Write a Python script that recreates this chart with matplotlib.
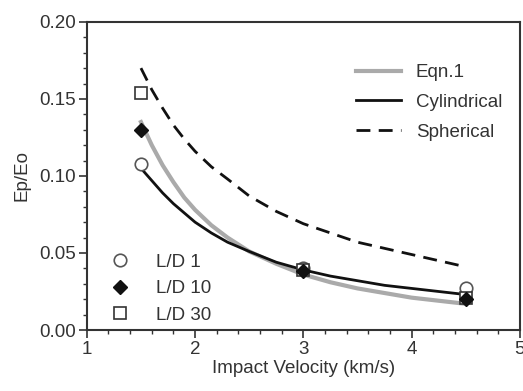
import matplotlib.pyplot as plt
from matplotlib.ticker import MultipleLocator

plt.rcParams['font.family'] = ['Liberation Sans', 'DejaVu Sans']

# curves
v_curve = [1.5, 1.6, 1.7, 1.8, 1.9, 2.0, 2.15, 2.3, 2.5, 2.75, 3.0, 3.25, 3.5, 3.75, 4.0, 4.25, 4.5]
eqn1 = [0.135, 0.120, 0.107, 0.096, 0.086, 0.078, 0.068, 0.060, 0.051, 0.043, 0.036, 0.031, 0.027,
        0.024, 0.021, 0.019, 0.017]
cylindrical = [0.105, 0.097, 0.089, 0.082, 0.076, 0.070, 0.063, 0.057, 0.051, 0.044, 0.039, 0.035,
               0.032, 0.029, 0.027, 0.025, 0.023]
spherical = [0.170, 0.156, 0.144, 0.133, 0.124, 0.116, 0.106, 0.098, 0.087, 0.077, 0.069, 0.063,
             0.057, 0.053, 0.049, 0.045, 0.041]

# measured points
v_pts = [1.5, 3.0, 4.5]
ld1 = [0.108, 0.040, 0.027]
ld10 = [0.130, 0.038, 0.020]
ld30 = [0.154, 0.039, 0.021]

fig = plt.figure(figsize=(5.23, 3.91), dpi=100)
ax = fig.add_axes([0.166, 0.156, 0.828, 0.788])

l1, = ax.plot(v_curve, eqn1, color='#aaaaaa', lw=3, label='Eqn.1')
l2, = ax.plot(v_curve, cylindrical, color='#111111', lw=2, label='Cylindrical')
l3, = ax.plot(v_curve, spherical, color='#111111', lw=2, ls=(0, (5, 3)), label='Spherical')

p1, = ax.plot(v_pts, ld1, 'o', ms=9, mfc='white', mec='#555555', mew=1.2, ls='none', label='L/D 1', zorder=5)
p3, = ax.plot(v_pts, ld30, 's', ms=9, mfc='white', mec='#333333', mew=1.2, ls='none', label='L/D 30', zorder=5)
p2, = ax.plot(v_pts, ld10, 'D', ms=7, mfc='#111111', mec='#111111', ls='none', label='L/D 10', zorder=6)

fs = 13.5
ax.set_xlim(1, 5)
ax.set_ylim(0, 0.20)
ax.xaxis.set_major_locator(MultipleLocator(1))
ax.xaxis.set_minor_locator(MultipleLocator(0.2))
ax.yaxis.set_major_locator(MultipleLocator(0.05))
ax.yaxis.set_minor_locator(MultipleLocator(0.01))
ax.yaxis.set_major_formatter(plt.FormatStrFormatter('%.2f'))
ax.tick_params(which='major', direction='out', length=6, width=1.2, color='#333333',
               labelsize=fs, labelcolor='#333333', pad=2)
ax.tick_params(which='minor', direction='out', length=3, width=1, color='#333333')
for s in ax.spines.values():
    s.set_color('#333333')
    s.set_linewidth(1.5)

ax.set_xlabel('Impact Velocity (km/s)', fontsize=fs, color='#333333', labelpad=1)
ax.set_ylabel('Ep/Eo', fontsize=fs, color='#333333', labelpad=6)

leg1 = ax.legend(handles=[l1, l2, l3], loc='upper right', bbox_to_anchor=(0.985, 0.90),
                 frameon=False, fontsize=fs, handlelength=2.4, handletextpad=0.8,
                 labelspacing=0.68, labelcolor='#333333', borderaxespad=0.2)
ax.add_artist(leg1)
ax.legend(handles=[p1, p2, p3], loc='lower left', bbox_to_anchor=(-0.005, -0.035),
          frameon=False, fontsize=fs, handletextpad=0.9, labelspacing=0.5,
          labelcolor='#333333')

fig.savefig('out.png', dpi=100)
